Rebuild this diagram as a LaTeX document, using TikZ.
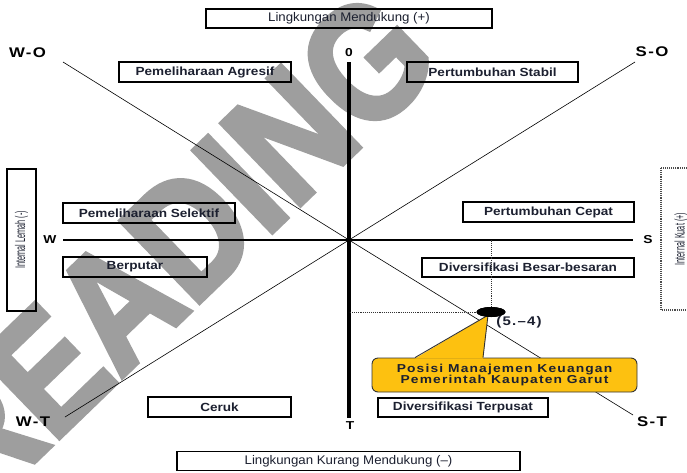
\documentclass[tikz,border=0pt]{standalone}
\usepackage{fontspec}
\setmainfont{Liberation Sans}
\newfontfamily\envfont[FakeStretch=1.06]{Liberation Sans}
\newfontfamily\boxfont[FakeStretch=1.15]{Liberation Sans}
\newfontfamily\widefont[FakeStretch=1.2,LetterSpace=10]{Liberation Sans}
\newfontfamily\sidefont[FakeStretch=0.52]{Liberation Sans}
\newfontfamily\markfont[FakeBold=3,FakeStretch=0.85]{Liberation Sans}
\usetikzlibrary{shapes.geometric}

\definecolor{wmgray}{RGB}{158,158,158}
\definecolor{calloutfill}{RGB}{253,193,16}
\definecolor{inktext}{RGB}{28,32,48}

\tikzset{
  regionbox/.style={draw=black, line width=1.1pt, inner sep=0pt, minimum height=20pt,
    font=\boxfont\bfseries\fontsize{11.8}{12}\selectfont, text=inktext},
  envbox/.style={draw=black, line width=1.1pt, inner sep=0pt, minimum height=19pt,
    font=\envfont\fontsize{12.5}{13}\selectfont, text=inktext},
  sidebox/.style={draw=black, line width=1.1pt, inner sep=0pt, rotate=90,
    font=\sidefont\fontsize{14}{14}\selectfont, text=inktext},
  axislabel/.style={inner sep=0pt, font=\widefont\bfseries\fontsize{14}{14}\selectfont},
  poleletter/.style={inner sep=0pt, font=\widefont\bfseries\fontsize{11.5}{11}\selectfont},
  mainaxis/.style={line width=3.6pt},
  crossaxis/.style={line width=2.8pt},
  diagonal/.style={line width=0.6pt},
  guide/.style={densely dotted, line width=0.9pt, black!80},
  calloutbox/.style={draw=black!80, line width=0.9pt, fill=calloutfill, rounded corners=6pt,
    inner sep=0pt, align=center, text=inktext,
    font=\widefont\bfseries\fontsize{11.5}{11}\selectfont}
}

\begin{document}
\begin{tikzpicture}[x=1pt, y=-1pt]
\useasboundingbox (0,0) rectangle (687,472);

% diagonal watermark lettering behind the chart
\node[font=\markfont\bfseries\fontsize{165}{165}\selectfont, text=wmgray,
      rotate=44, inner sep=0pt] (mark) at (173,249) {READING};

% end points of the axes and diagonals
\coordinate (c)    at (349,240);
\coordinate (ntop) at (349,62);
\coordinate (nbot) at (349,418);
\coordinate (wend) at (63,240);
\coordinate (send) at (633,240);
\coordinate (wo)   at (63,62);
\coordinate (so)   at (635,62);
\coordinate (wt)   at (65,417);
\coordinate (st)   at (633,415);

% diagonals
\draw[diagonal] (wo) -- (c) -- (st);
\draw[diagonal] (so) -- (c) -- (wt);

% main axes
\draw[mainaxis] (ntop) -- (nbot);
\draw[crossaxis] (wend) -- (send);

% environment boxes
\node[envbox, minimum width=286pt] (envplus) at (349,18.5) {Lingkungan Mendukung (+)};
\node[envbox, minimum width=343pt] (envminus) at (348.5,461) {Lingkungan Kurang Mendukung (–)};

% internal boxes
\node[sidebox, minimum width=142pt, minimum height=29pt] (lemah) at (21.5,240) {Internal Lemah (-)};
\node[sidebox, draw=black!70, densely dotted, minimum width=142pt, minimum height=40pt] (kuat) at (681,239) {Internal Kuat (+)};

% strategy boxes
\node[regionbox, minimum width=172pt] (agresif)  at (205,72)   {Pemeliharaan Agresif};
\node[regionbox, minimum width=171pt] (stabil)   at (492.5,72) {Pertumbuhan Stabil};
\node[regionbox, minimum width=172pt] (selektif) at (149,213)  {Pemeliharaan Selektif};
\node[regionbox, minimum width=171pt] (cepat)    at (548.5,212) {Pertumbuhan Cepat};
\node[regionbox, minimum width=144pt] (putar)    at (135,267)  {Berputar};
\node[regionbox, minimum width=212pt, minimum height=19pt] (besar) at (528,267.5) {Diversifikasi Besar-besaran};
\node[regionbox, minimum width=143pt] (ceruk)    at (219.5,407) {Ceruk};
\node[regionbox, minimum width=170pt, minimum height=19pt] (pusat) at (463,407.5) {Diversifikasi Terpusat};

% axis labels
\node[axislabel] (lwo) at (27.5,53) {W-O};
\node[axislabel] (lso) at (652,52)  {S-O};
\node[axislabel] (lwt) at (33,422)  {W-T};
\node[axislabel] (lst) at (652,422) {S-T};
\node[poleletter] (lo) at (349,53)  {0};
\node[poleletter] (lt) at (350,426) {T};
\node[poleletter] (lw) at (50,240)  {W};
\node[poleletter] (ls) at (648,240) {S};

% position marker
\node[ellipse, fill=black, minimum width=29pt, minimum height=10pt, inner sep=0pt] (pos) at (491,312) {};
\draw[guide] (pos.north) -- (pos.north |- c);
\draw[guide] (pos.west) -- (pos.west -| c);

% callout
\node[calloutbox, minimum width=265pt, minimum height=34pt] (callout) at (504.5,375)
  {Posisi Manajemen Keuangan\\Pemerintah Kaupaten Garut};
\fill[calloutfill] ([xshift=-89.5pt,yshift=-1pt]callout.north) -- ([xshift=-3pt,yshift=2pt]pos.south)
  -- ([xshift=-21.5pt,yshift=-1pt]callout.north) -- cycle;
\draw[draw=black!80, line width=0.9pt] ([xshift=-89.5pt]callout.north) -- ([xshift=-3pt,yshift=2pt]pos.south)
  -- ([xshift=-21.5pt]callout.north);
\node[ellipse, fill=black, minimum width=29pt, minimum height=10pt, inner sep=0pt] at (pos) {};
\node[inner sep=0pt, text=inktext, font=\widefont\bfseries\fontsize{12.5}{12}\selectfont] (poslabel) at (519,322) {(5.–4)};

\end{tikzpicture}
\end{document}
